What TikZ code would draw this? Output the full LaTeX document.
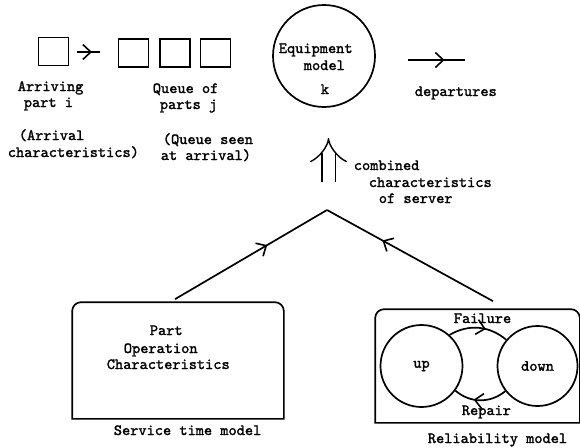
\documentclass[tikz,border=0pt]{standalone}
\usepackage{fontspec}
\newfontfamily\tw{lmmono10-regular}[Extension=.otf,FakeBold=1.6]
\usetikzlibrary{arrows.meta,decorations.markings}
\begin{document}
\begin{tikzpicture}[x=1pt,y=-1pt,line width=1.7pt,
  txt/.style={font=\tw\fontsize{15.6}{18}\selectfont,inner sep=0pt,anchor=base west},
  sq/.style={draw,minimum width=30pt,minimum height=28pt,inner sep=0pt},
  midarrow/.style={postaction={decorate},decoration={markings,
     mark=at position #1 with {\draw[line width=1.6pt,line join=miter] (-8pt,-7.5pt) -- (0pt,0pt) -- (-8pt,7.5pt);}}},
  state/.style={draw,circle,inner sep=0pt,font=\tw\fontsize{15.6}{18}\selectfont}]
\useasboundingbox (0,0) rectangle (580,447);

% arriving part and queue
\node[sq] (arr) at (53.5,51.5) {};
\coordinate (a1) at (77,52);
\coordinate (a2) at (100,52);
\draw[midarrow=0.6] (a1) -- (a2);
\node[sq] (q1) at (133.5,53) {};
\node[sq] (q2) at (175,53) {};
\node[sq] (q3) at (215.5,53) {};

\node[txt] (t1) at (17,91) {Arriving};
\node[txt] (t2) at (23,107) {part i};
\node[txt] (t3) at (18,140) {(Arrival};
\node[txt] (t4) at (7,157) {characteristics)};
\node[txt] (t5) at (152,93) {Queue of};
\node[txt] (t6) at (159,109) {parts j};
\node[txt] (t7) at (162,144) {(Queue seen};
\node[txt] (t8) at (160,160) {at arrival)};

% equipment
\node[draw,circle,minimum size=102pt,inner sep=0pt] (eq) at (324,56) {};
\node[txt] (e1) at (278,53) {Equipment};
\node[txt] (e2) at (303,70) {model};
\node[txt] (e3) at (320,94) {k};

% departures
\coordinate (d1) at (408,60);
\coordinate (d2) at (465,60);
\draw[midarrow=0.62] (d1) -- (d2);
\node[txt] (dep) at (414,96) {departures};

% combined
\coordinate (dbot) at (328.5,182);
\coordinate (dtop) at (328.5,138);
\draw[double distance=12pt,line width=1.4pt,-{Implies[scale=1.25]}] (dbot) -- (dtop);
\node[txt] (c1) at (353,170) {combined};
\node[txt] (c2) at (368,187) {characteristics};
\node[txt] (c3) at (378,203) {of server};

% service time model
\node[minimum width=210pt,minimum height=115pt,inner sep=0pt] (svc) at (178,360.5) {};
\draw (svc.south west) -- ([yshift=-9pt]svc.north west) arc[start angle=180,end angle=90,radius=9pt]
   -- ([xshift=-9pt]svc.north east) arc[start angle=90,end angle=0,radius=9pt] -- (svc.south east) -- cycle;
\node[txt] (p1) at (149,335) {Part};
\node[txt] (p2) at (123,353) {Operation};
\node[txt] (p3) at (106,369) {Characteristics};
\node[txt] (p4) at (113,435) {Service time model};

% reliability model
\node[minimum width=203pt,minimum height=112pt,inner sep=0pt] (rel) at (477.5,366) {};
\draw (rel.south west) -- ([yshift=-9pt]rel.north west) arc[start angle=180,end angle=90,radius=9pt]
   -- ([xshift=-9pt]rel.north east) arc[start angle=90,end angle=0,radius=9pt] -- (rel.south east) -- cycle;
\node[state,minimum size=82pt] (up) at (421.5,366) {up};
\node[state,minimum size=80pt] (down) at (537.5,366) {down};
\draw[midarrow=0.6] (up.48) to[bend left=35] (down.140);
\draw[midarrow=0.6] (down.-142) to[bend left=40] (up.-36);
\node[txt] (f) at (453,323) {Failure};
\node[txt] (r) at (461,415) {Repair};
\node[txt] (p5) at (427,443) {Reliability model};

% combining V
\coordinate (apex) at (327,210);
\draw[midarrow=0.6] ([xshift=-3pt,yshift=3pt]svc.north) -- (apex);
\draw[midarrow=0.66] ([xshift=15.5pt,yshift=8pt]rel.north) -- (apex);
\end{tikzpicture}
\end{document}
